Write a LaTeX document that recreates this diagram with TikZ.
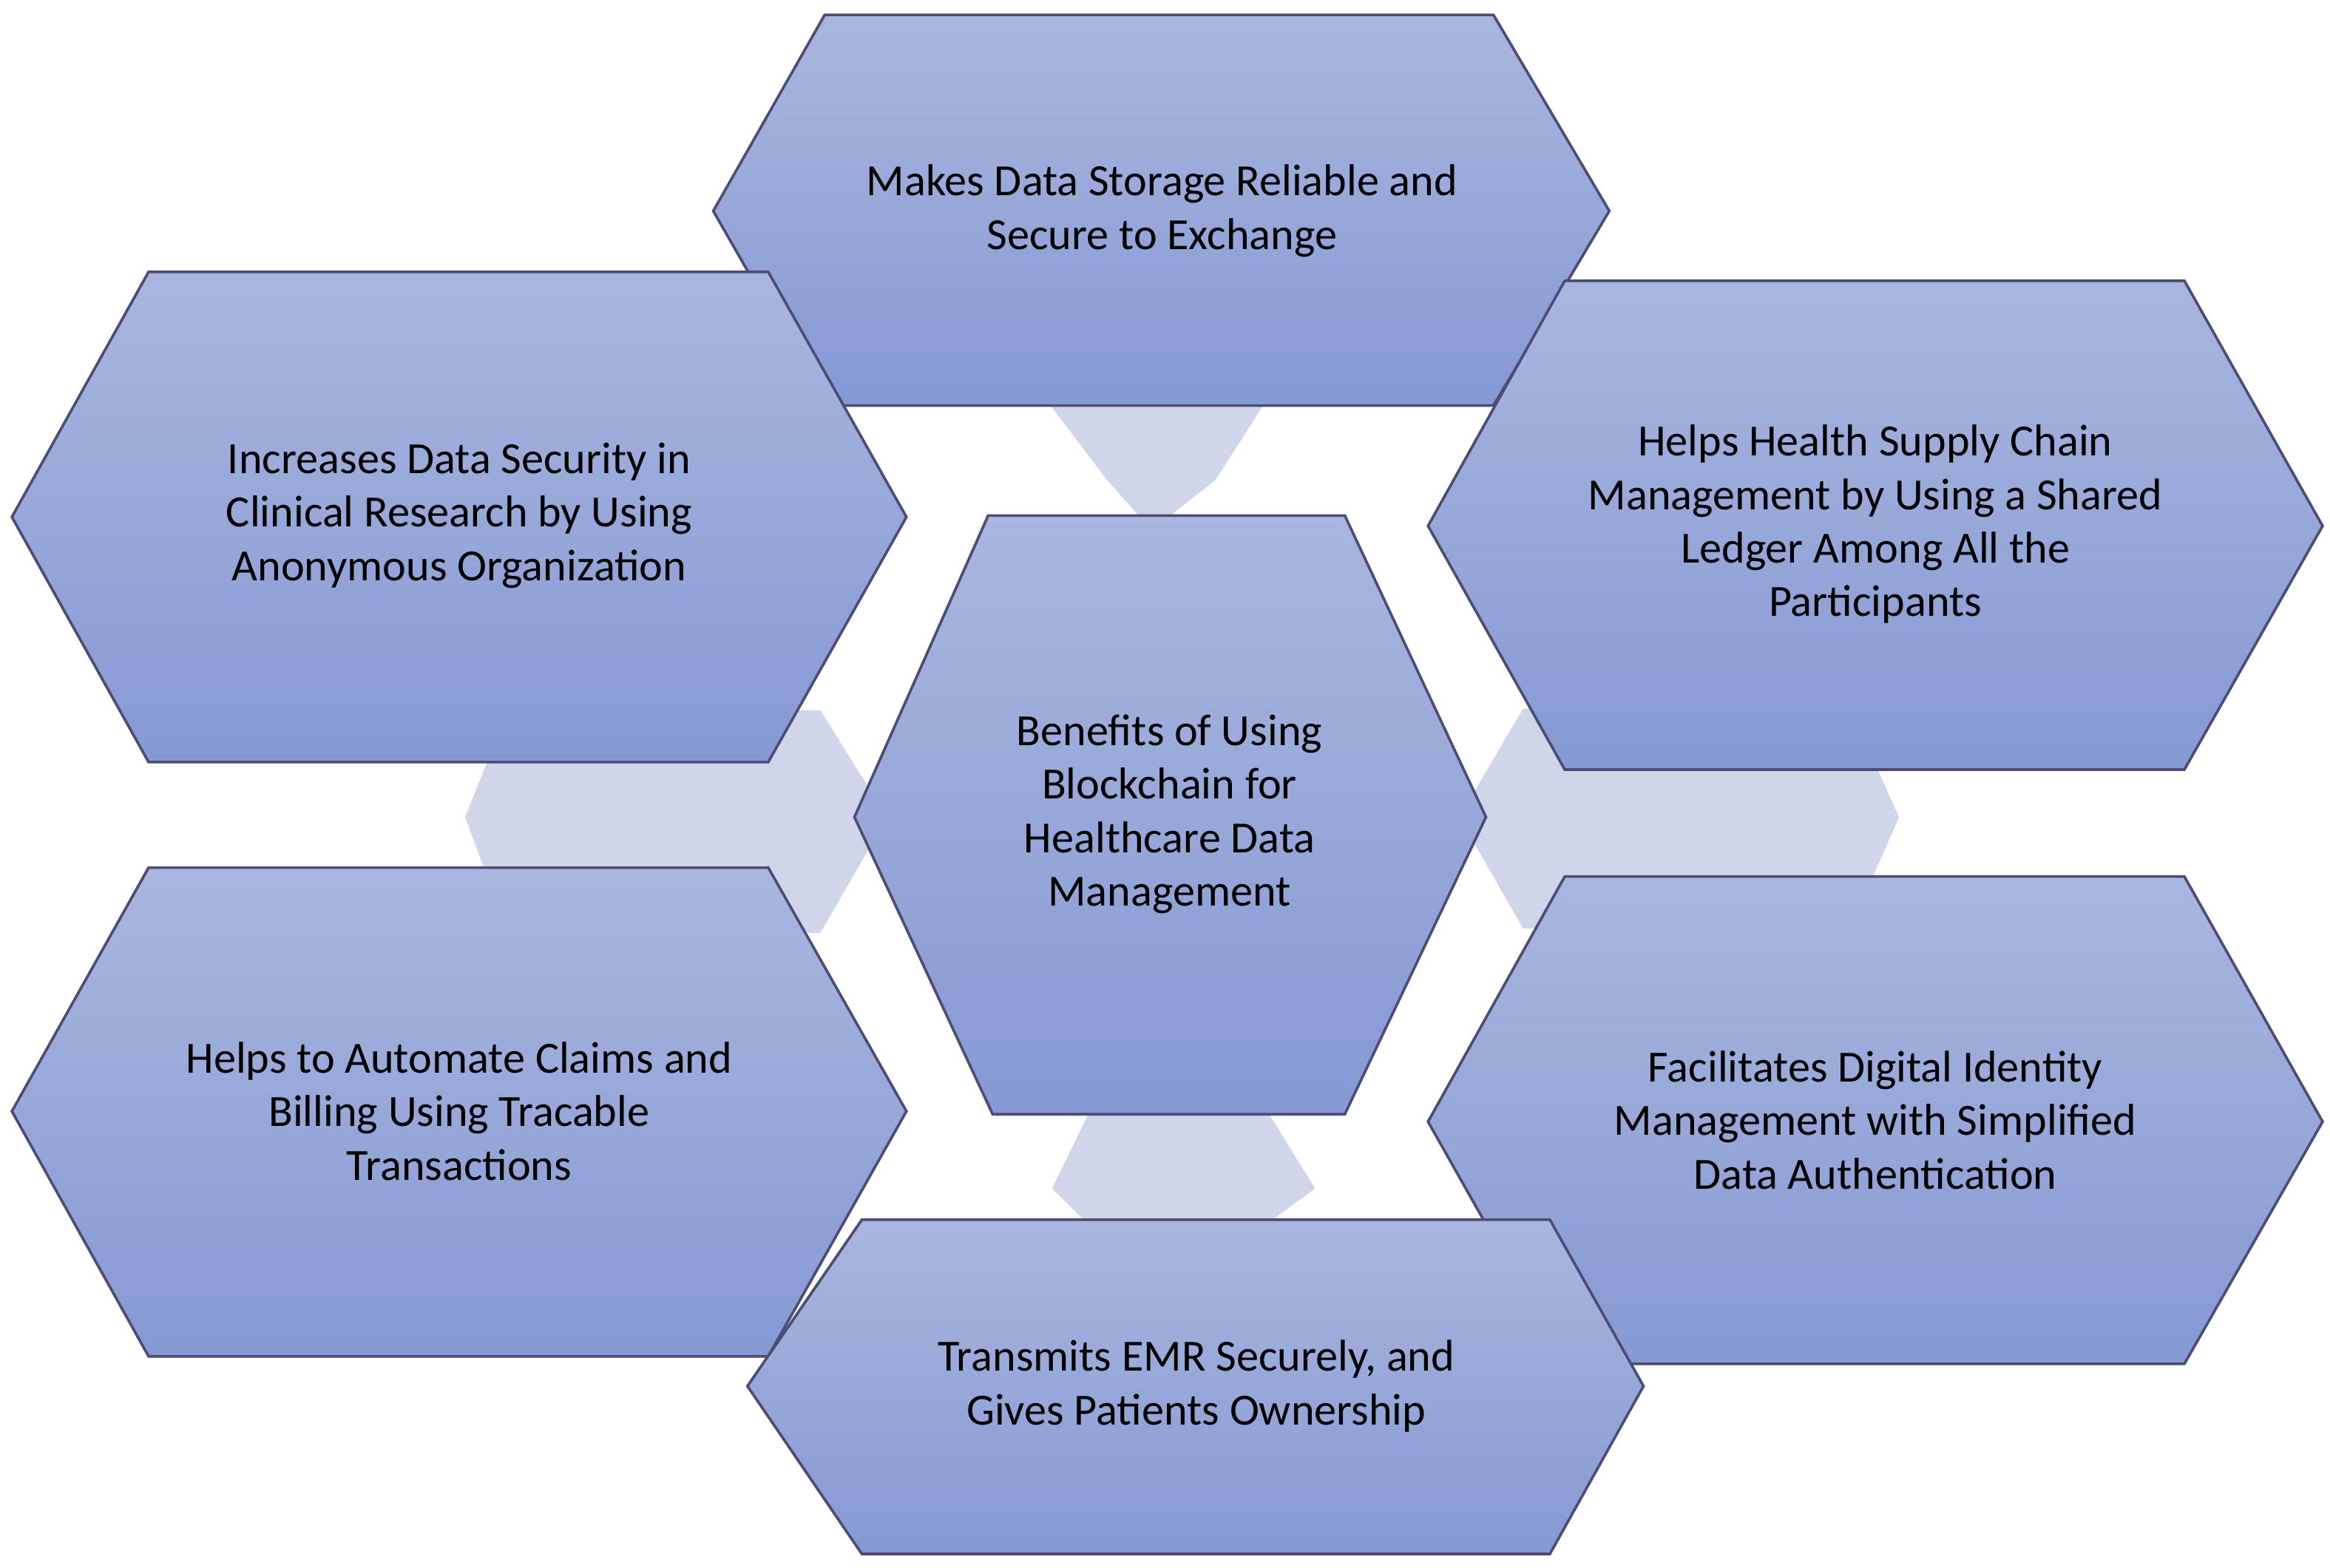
\documentclass[tikz,border=0pt]{standalone}
\usepackage{fontspec}
\setmainfont{Carlito}
\begin{document}
\begin{tikzpicture}[x=0.5pt,y=-0.5pt,
  hex/.style={draw=black!60!blue!40!gray, line width=0.9pt, top color=hexTop, bottom color=hexBot},
  con/.style={fill=conFill, draw=none},
  lbl/.style={align=center, font=\fontsize{15}{18}\selectfont, text=black}]
\definecolor{hexTop}{HTML}{A9B6DE}
\definecolor{hexBot}{HTML}{8599D4}
\definecolor{conFill}{HTML}{CFD6EA}
\useasboundingbox (0,0) rectangle (1568,1055);
% connectors
\fill[con] (707,273) -- (850,273) -- (818,323) -- (775,357) -- (745,323) -- cycle;
\fill[con] (313,550) -- (342,478) -- (552,478) -- (597,550) -- (552,628) -- (342,628) -- cycle;
\fill[con] (982,550) -- (1025,477) -- (1245,477) -- (1278,550) -- (1245,625) -- (1025,625) -- cycle;
\fill[con] (708,800) -- (745,724) -- (838,724) -- (885,800) -- (855,822) -- (730,822) -- cycle;
% hexagons
\path[hex] (575,550) -- (665,347) -- (905,347) -- (1000,550) -- (905,750) -- (668,750) -- cycle;
\path[hex] (480,142) -- (555,10) -- (1005,10) -- (1083,142) -- (1005,273) -- (555,273) -- cycle;
\path[hex] (8,348) -- (100,183) -- (517,183) -- (610,348) -- (517,513) -- (100,513) -- cycle;
\path[hex] (961,354) -- (1053,189) -- (1470,189) -- (1563,354) -- (1470,518) -- (1053,518) -- cycle;
\path[hex] (8,748) -- (100,584) -- (517,584) -- (610,748) -- (517,913) -- (100,913) -- cycle;
\path[hex] (961,755) -- (1053,590) -- (1470,590) -- (1563,755) -- (1470,918) -- (1053,918) -- cycle;
\path[hex] (503,933) -- (580,821) -- (1043,821) -- (1106,933) -- (1043,1046) -- (580,1046) -- cycle;
% labels
\node[lbl] (c) at (787,548) {Benefits of Using\\Blockchain for\\Healthcare Data\\Management};
\node[lbl] (t) at (782,142) {Makes Data Storage Reliable and\\Secure to Exchange};
\node[lbl] (ul) at (309,347) {Increases Data Security in\\Clinical Research by Using\\Anonymous Organization};
\node[lbl] (ur) at (1262,353) {Helps Health Supply Chain\\Management by Using a Shared\\Ledger Among All the\\Participants};
\node[lbl] (ll) at (309,748) {Helps to Automate Claims and\\Billing Using Tracable\\Transactions};
\node[lbl] (lr) at (1262,754) {Facilitates Digital Identity\\Management with Simplified\\Data Authentication};
\node[lbl] (b) at (805,933) {Transmits EMR Securely, and\\Gives Patients Ownership};
\end{tikzpicture}
\end{document}
